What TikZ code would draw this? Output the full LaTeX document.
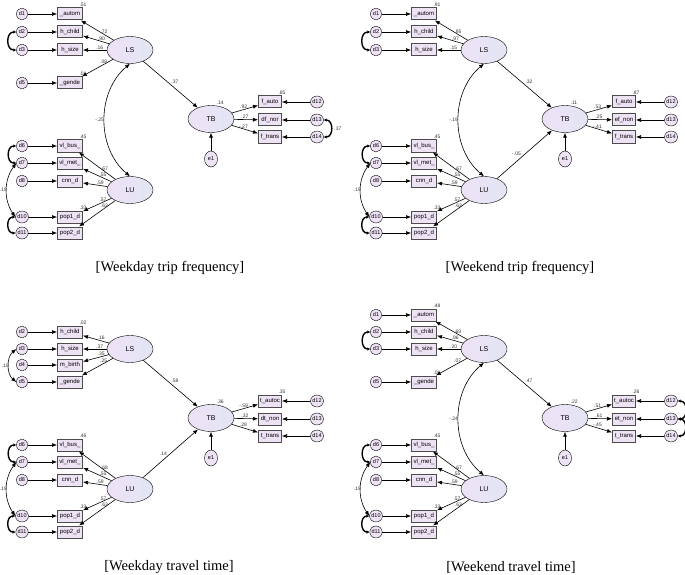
\documentclass[tikz,border=0pt]{standalone}
\usepackage{fontspec}
\setmainfont{Liberation Sans}
\newfontfamily\capfont{Liberation Serif}
\usetikzlibrary{arrows.meta,shapes.geometric}
\definecolor{lavfill}{RGB}{238,226,245}
\definecolor{lavblue}{RGB}{226,229,245}
\tikzset{
  obs/.style={draw=black!70,line width=1pt,fill=lavfill,minimum width=25pt,
    minimum height=12pt,inner sep=0pt,font=\fontsize{6}{6}\selectfont},
  err/.style={ellipse,draw,fill=lavfill,minimum width=11pt,minimum height=12pt,
    inner sep=0pt,font=\fontsize{5.5}{6}\selectfont},
  lat/.style={ellipse,draw,left color=lavfill,right color=lavblue,
    minimum width=46pt,minimum height=27pt,inner sep=0pt,font=\fontsize{7}{7}\selectfont},
  est/.style={font=\fontsize{5}{5}\selectfont,inner sep=0.6pt,text=black!80},
  pth/.style={-{Latex[length=5pt,width=4pt]},line width=0.6pt},
  cov/.style={{Latex[length=5pt,width=4pt]}-{Latex[length=5pt,width=4pt]},line width=0.6pt},
  tcov/.style={{Latex[length=3pt,width=3.5pt]}-{Latex[length=3pt,width=3.5pt]},
    line width=1.4pt,looseness=1.5},
  captxt/.style={font=\capfont\fontsize{14.5}{14.5}\selectfont}
}
\begin{document}
\begin{tikzpicture}[x=1pt,y=-1pt]
\useasboundingbox (0,0) rectangle (685,575);

% weekday trip frequency
\begin{scope}
  \node[lat] (A-LS) at (130,50) {LS};
  \node[lat] (A-LU) at (130,190) {LU};
  \node[lat,label={[est]70:.14}] (A-TB) at (211,119) {TB};
  \node[err,minimum width=13pt,minimum height=16pt] (A-e1) at (211,159) {e1};
  \foreach \i/\txt/\y/\ld/\rs in {1/\_autom/14/.72/.51, 2/h\_child/32/.90/, 3/h\_size/50/.16/, 5/\_gende/83/.08/.01}{
    \node[obs,label={[est,anchor=south]north east:\rs}] (A-x\i) at (70,\y) {\txt};
    \node[err] (A-d\i) at (22,\y) {d\i};
    \draw[pth] (A-d\i) -- (A-x\i);
    \draw[pth] (A-LS) -- node[est,pos=0.3,above] (A-l\i) {\ld} (A-x\i);
  }
  \foreach \i/\txt/\y/\ld/\rs in {6/vl\_bus\_/146/.67/.45, 7/vl\_met\_/163/.55/, 8/cnn\_d/181/.59/, 10/pop1\_d/217/.57/.33, 11/pop2\_d/233/.63/}{
    \node[obs,label={[est,anchor=south]north east:\rs}] (A-x\i) at (70,\y) {\txt};
    \node[err] (A-d\i) at (22,\y) {d\i};
    \draw[pth] (A-d\i) -- (A-x\i);
    \draw[pth] (A-LU) -- node[est,pos=0.3,above] (A-l\i) {\ld} (A-x\i);
  }
  \foreach \i/\txt/\y/\ld/\rs in {12/f\_auto/102/.92/.85, 13/df\_nor/120/.27/, 14/f\_trans/137/-.27/}{
    \node[obs,minimum width=23pt,label={[est,anchor=south]north east:\rs}] (A-x\i) at (270,\y) {\txt};
    \node[err] (A-d\i) at (317,\y) {d\i};
    \draw[pth] (A-d\i) -- (A-x\i);
    \draw[pth] (A-TB) -- node[est,pos=0.45,above] (A-l\i) {\ld} (A-x\i);
  }
  \draw[tcov] (A-d2.west) to[bend right=90] (A-d3.west);
  \draw[tcov] (A-d6.west) to[bend right=90] (A-d7.west);
  \draw[tcov] (A-d10.west) to[bend right=90] (A-d11.west);
  \draw[cov] (A-d7.west) to[bend right=35] node[est,left=-1pt] (A-c1) {.19} (A-d10.west);
  \draw[tcov] (A-d13.east) to[bend left=90] node[est,right=2pt] (A-c2) {.37} (A-d14.east);
  \draw[cov] (A-LU.north) to[bend left=50] node[est,left] (A-c3) {-.25} (A-LS.south);
  \draw[pth] (A-LS) -- node[est,pos=0.5,above right] (A-p1) {.37} (A-TB);
  \draw[pth] (A-e1) -- (A-TB);
  \node[captxt] (A-cap) at (170,268) {[Weekday trip frequency]};
\end{scope}

% weekend trip frequency
\begin{scope}[shift={(354,0)}]
  \node[lat] (B-LS) at (130,50) {LS};
  \node[lat] (B-LU) at (130,190) {LU};
  \node[lat,label={[est]70:.11}] (B-TB) at (211,119) {TB};
  \node[err,minimum width=13pt,minimum height=16pt] (B-e1) at (211,159) {e1};
  \foreach \i/\txt/\y/\ld/\rs in {1/\_autom/14/.95/.91, 2/h\_child/32/.97/, 3/h\_size/50/.15/}{
    \node[obs,label={[est,anchor=south]north east:\rs}] (B-x\i) at (70,\y) {\txt};
    \node[err] (B-d\i) at (22,\y) {d\i};
    \draw[pth] (B-d\i) -- (B-x\i);
    \draw[pth] (B-LS) -- node[est,pos=0.3,above] (B-l\i) {\ld} (B-x\i);
  }
  \foreach \i/\txt/\y/\ld/\rs in {6/vl\_bus\_/146/.67/.45, 7/vl\_met\_/163/.55/, 8/cnn\_d/181/.59/, 10/pop1\_d/217/.57/.33, 11/pop2\_d/233/.63/}{
    \node[obs,label={[est,anchor=south]north east:\rs}] (B-x\i) at (70,\y) {\txt};
    \node[err] (B-d\i) at (22,\y) {d\i};
    \draw[pth] (B-d\i) -- (B-x\i);
    \draw[pth] (B-LU) -- node[est,pos=0.3,above] (B-l\i) {\ld} (B-x\i);
  }
  \foreach \i/\txt/\y/\ld/\rs in {12/f\_auto/102/.53/.87, 13/ef\_non/120/.25/, 14/f\_trans/137/-.41/}{
    \node[obs,minimum width=23pt,label={[est,anchor=south]north east:\rs}] (B-x\i) at (270,\y) {\txt};
    \node[err] (B-d\i) at (317,\y) {d\i};
    \draw[pth] (B-d\i) -- (B-x\i);
    \draw[pth] (B-TB) -- node[est,pos=0.45,above] (B-l\i) {\ld} (B-x\i);
  }
  \draw[tcov] (B-d2.west) to[bend right=90] (B-d3.west);
  \draw[tcov] (B-d6.west) to[bend right=90] (B-d7.west);
  \draw[tcov] (B-d10.west) to[bend right=90] (B-d11.west);
  \draw[cov] (B-d7.west) to[bend right=35] node[est,left=-1pt] (B-c1) {.19} (B-d10.west);
  \draw[cov] (B-LU.north) to[bend left=50] node[est,left] (B-c3) {-.19} (B-LS.south);
  \draw[pth] (B-LS) -- node[est,pos=0.5,above right] (B-p1) {.32} (B-TB);
  \draw[pth] (B-LU) -- node[est,pos=0.45,above left] (B-p2) {-.05} (B-TB);
  \draw[pth] (B-e1) -- (B-TB);
  \node[captxt] (B-cap) at (166,268) {[Weekend trip frequency]};
\end{scope}

% weekday travel time
\begin{scope}[shift={(0,299)}]
  \node[lat] (C-LS) at (130,50) {LS};
  \node[lat] (C-LU) at (130,190) {LU};
  \node[lat,label={[est]70:.36}] (C-TB) at (211,119) {TB};
  \node[err,minimum width=13pt,minimum height=16pt] (C-e1) at (211,159) {e1};
  \foreach \i/\txt/\y/\ld/\rs in {2/h\_child/33/.16/.02, 3/h\_size/50/.37/, 4/m\_birth/66/.35/, 5/\_gende/83/.25/}{
    \node[obs,label={[est,anchor=south]north east:\rs}] (C-x\i) at (70,\y) {\txt};
    \node[err] (C-d\i) at (22,\y) {d\i};
    \draw[pth] (C-d\i) -- (C-x\i);
    \draw[pth] (C-LS) -- node[est,pos=0.3,above] (C-l\i) {\ld} (C-x\i);
  }
  \foreach \i/\txt/\y/\ld/\rs in {6/vl\_bus\_/146/.68/.46, 7/vl\_met\_/163/.55/, 8/cnn\_d/181/.59/, 10/pop1\_d/217/.57/.33, 11/pop2\_d/233/.63/}{
    \node[obs,label={[est,anchor=south]north east:\rs}] (C-x\i) at (70,\y) {\txt};
    \node[err] (C-d\i) at (22,\y) {d\i};
    \draw[pth] (C-d\i) -- (C-x\i);
    \draw[pth] (C-LU) -- node[est,pos=0.3,above] (C-l\i) {\ld} (C-x\i);
  }
  \foreach \i/\txt/\y/\ld/\rs in {12/t\_autoc/102/-.59/.35, 13/dt\_non/120/.32/, 14/t\_trans/137/.28/}{
    \node[obs,minimum width=23pt,label={[est,anchor=south]north east:\rs}] (C-x\i) at (270,\y) {\txt};
    \node[err] (C-d\i) at (317,\y) {d\i};
    \draw[pth] (C-d\i) -- (C-x\i);
    \draw[pth] (C-TB) -- node[est,pos=0.45,above] (C-l\i) {\ld} (C-x\i);
  }
  \draw[cov] (C-d3.west) to[bend right=50] node[est,left=-1pt] (C-c0) {.10} (C-d5.west);
  \draw[tcov] (C-d6.west) to[bend right=90] (C-d7.west);
  \draw[tcov] (C-d10.west) to[bend right=90] (C-d11.west);
  \draw[cov] (C-d7.west) to[bend right=35] node[est,left=-1pt] (C-c1) {.19} (C-d10.west);
  \draw[pth] (C-LS) -- node[est,pos=0.5,above right] (C-p1) {.58} (C-TB);
  \draw[pth] (C-LU) -- node[est,pos=0.45,above left] (C-p2) {.14} (C-TB);
  \draw[pth] (C-e1) -- (C-TB);
  \node[captxt] (C-cap) at (169,268) {[Weekday travel time]};
\end{scope}

% weekend travel time
\begin{scope}[shift={(354,299)}]
  \node[lat] (D-LS) at (130,50) {LS};
  \node[lat] (D-LU) at (130,190) {LU};
  \node[lat,label={[est]70:.22}] (D-TB) at (211,119) {TB};
  \node[err,minimum width=13pt,minimum height=16pt] (D-e1) at (211,159) {e1};
  \foreach \i/\txt/\y/\ld/\rs in {1/\_autom/16/.69/.48, 2/h\_child/33/.96/, 3/h\_size/50/.20/, 5/\_gende/83/.07/.01}{
    \node[obs,label={[est,anchor=south]north east:\rs}] (D-x\i) at (70,\y) {\txt};
    \node[err] (D-d\i) at (22,\y) {d\i};
    \draw[pth] (D-d\i) -- (D-x\i);
    \draw[pth] (D-LS) -- node[est,pos=0.3,above] (D-l\i) {\ld} (D-x\i);
  }
  \foreach \i/\txt/\y/\ld/\rs in {6/vl\_bus\_/146/.67/.45, 7/vl\_met\_/163/.55/, 8/cnn\_d/181/.59/, 10/pop1\_d/217/.57/.33, 11/pop2\_d/233/.63/}{
    \node[obs,label={[est,anchor=south]north east:\rs}] (D-x\i) at (70,\y) {\txt};
    \node[err] (D-d\i) at (22,\y) {d\i};
    \draw[pth] (D-d\i) -- (D-x\i);
    \draw[pth] (D-LU) -- node[est,pos=0.3,above] (D-l\i) {\ld} (D-x\i);
  }
  \foreach \i/\txt/\y/\ld/\rs in {12/t\_autoc/102/.51/.26, 13/et\_non/120/.61/, 14/t\_trans/137/-.45/}{
    \node[obs,minimum width=23pt,label={[est,anchor=south]north east:\rs}] (D-x\i) at (270,\y) {\txt};
    \node[err] (D-d\i) at (317,\y) {d\i};
    \draw[pth] (D-d\i) -- (D-x\i);
    \draw[pth] (D-TB) -- node[est,pos=0.45,above] (D-l\i) {\ld} (D-x\i);
  }
  \draw[tcov] (D-d2.west) to[bend right=90] (D-d3.west);
  \draw[tcov] (D-d6.west) to[bend right=90] (D-d7.west);
  \draw[tcov] (D-d10.west) to[bend right=90] (D-d11.west);
  \draw[cov] (D-d7.west) to[bend right=35] node[est,left=-1pt] (D-c1) {.19} (D-d10.west);
  \draw[tcov] (D-d12.east) to[bend left=90] (D-d13.east);
  \draw[tcov] (D-d13.east) to[bend left=90] (D-d14.east);
  \draw[cov] (D-LU.north) to[bend left=50] node[est,left] (D-c3) {-.24} (D-LS.south);
  \draw[pth] (D-LS) -- node[est,pos=0.5,above right] (D-p1) {.47} (D-TB);
  \draw[pth] (D-e1) -- (D-TB);
  \node[captxt] (D-cap) at (157,268) {[Weekend travel time]};
\end{scope}
\end{tikzpicture}
\end{document}
